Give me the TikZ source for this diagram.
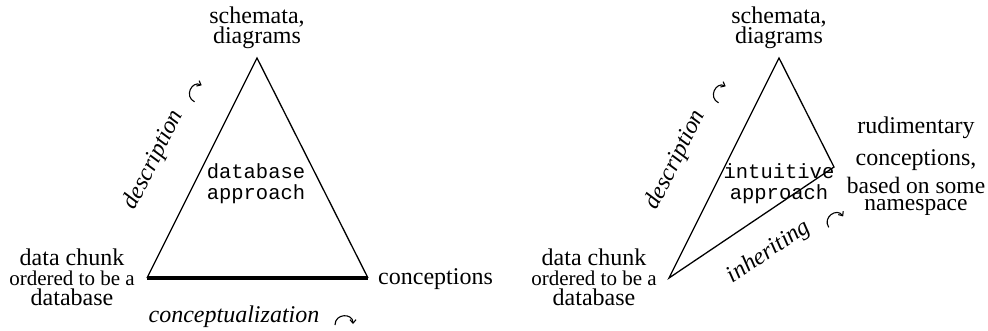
\documentclass[tikz,border=0pt]{standalone}
\usepackage{fontspec}
\usetikzlibrary{arrows.meta}
\setmainfont{Liberation Serif}
\setmonofont{Liberation Mono}
\lineskiplimit=-100pt
\begin{document}
\begin{tikzpicture}[x=1pt,y=-1pt,
  lbl/.style={font=\fontsize{24}{20}\selectfont,align=center,inner sep=0pt},
  process/.style={font=\itshape\fontsize{24}{24}\selectfont,inner sep=0pt},
  approach/.style={font=\ttfamily\fontsize{20.5}{21}\selectfont,align=center,inner sep=0pt},
  edge/.style={line width=1.3pt,line join=miter},
  heavy/.style={line width=3.6pt},
  turnarrow/.pic={\draw[line width=1.1pt,-{Straight Barb[length=3.5pt,width=6pt]}]
    (-9,4) .. controls (-9,-8) and (9,-8) .. (9,3);}]
\useasboundingbox (0,0) rectangle (988,330);

% ---- database approach ----
\coordinate (s1) at (257,58);
\coordinate (d1) at (147,278);
\coordinate (c1) at (368,278);
\draw[edge] (d1) -- (s1) -- (c1);
\draw[heavy] (d1) -- (c1);

% multi-line labels are anchored at the baseline of their last line
\node[lbl,anchor=base] (top1) at (257,43) {schemata,\\diagrams};
\node[lbl,anchor=base] (data1) at (72,305) {data chunk\\{\fontsize{21}{20}\selectfont ordered to be a}\\database};
\node[lbl,anchor=base west] (conc1) at (378,284) {conceptions};
\node[approach] (mid1) at (256,184) {database\\approach};

\node[process,rotate=63.4] (desc1) at (154,160) {description};
\pic[rotate=63.4] at (195,92) {turnarrow};
\node[process,anchor=base] (concz) at (234,322) {conceptualization};
\pic at (344,321) {turnarrow};

% ---- intuitive approach ----
\coordinate (s2) at (779,58);
\coordinate (d2) at (669,278);
\coordinate (c2) at (834,167);
\draw[edge] (d2) -- (s2) -- (c2) -- cycle;

\node[lbl,anchor=base] (top2) at (779,43) {schemata,\\diagrams};
\node[lbl,anchor=base] (data2) at (594,305) {data chunk\\{\fontsize{21}{20}\selectfont ordered to be a}\\database};
\node[lbl,anchor=base,font=\fontsize{24}{32}\selectfont] (rud) at (916,165) {rudimentary\\conceptions,};
\node[lbl,anchor=base,font=\fontsize{23.5}{17}\selectfont] (ns) at (916,210) {based on some\\namespace};
\node[approach] (mid2) at (779,184) {intuitive\\approach};

\node[process,rotate=63.4] (desc2) at (676,160) {description};
\pic[rotate=63.4] at (719,93) {turnarrow};
\node[process,rotate=33.9] (inh) at (769,252) {inheriting};
\pic[rotate=33.9] at (834,219) {turnarrow};
\end{tikzpicture}
\end{document}
